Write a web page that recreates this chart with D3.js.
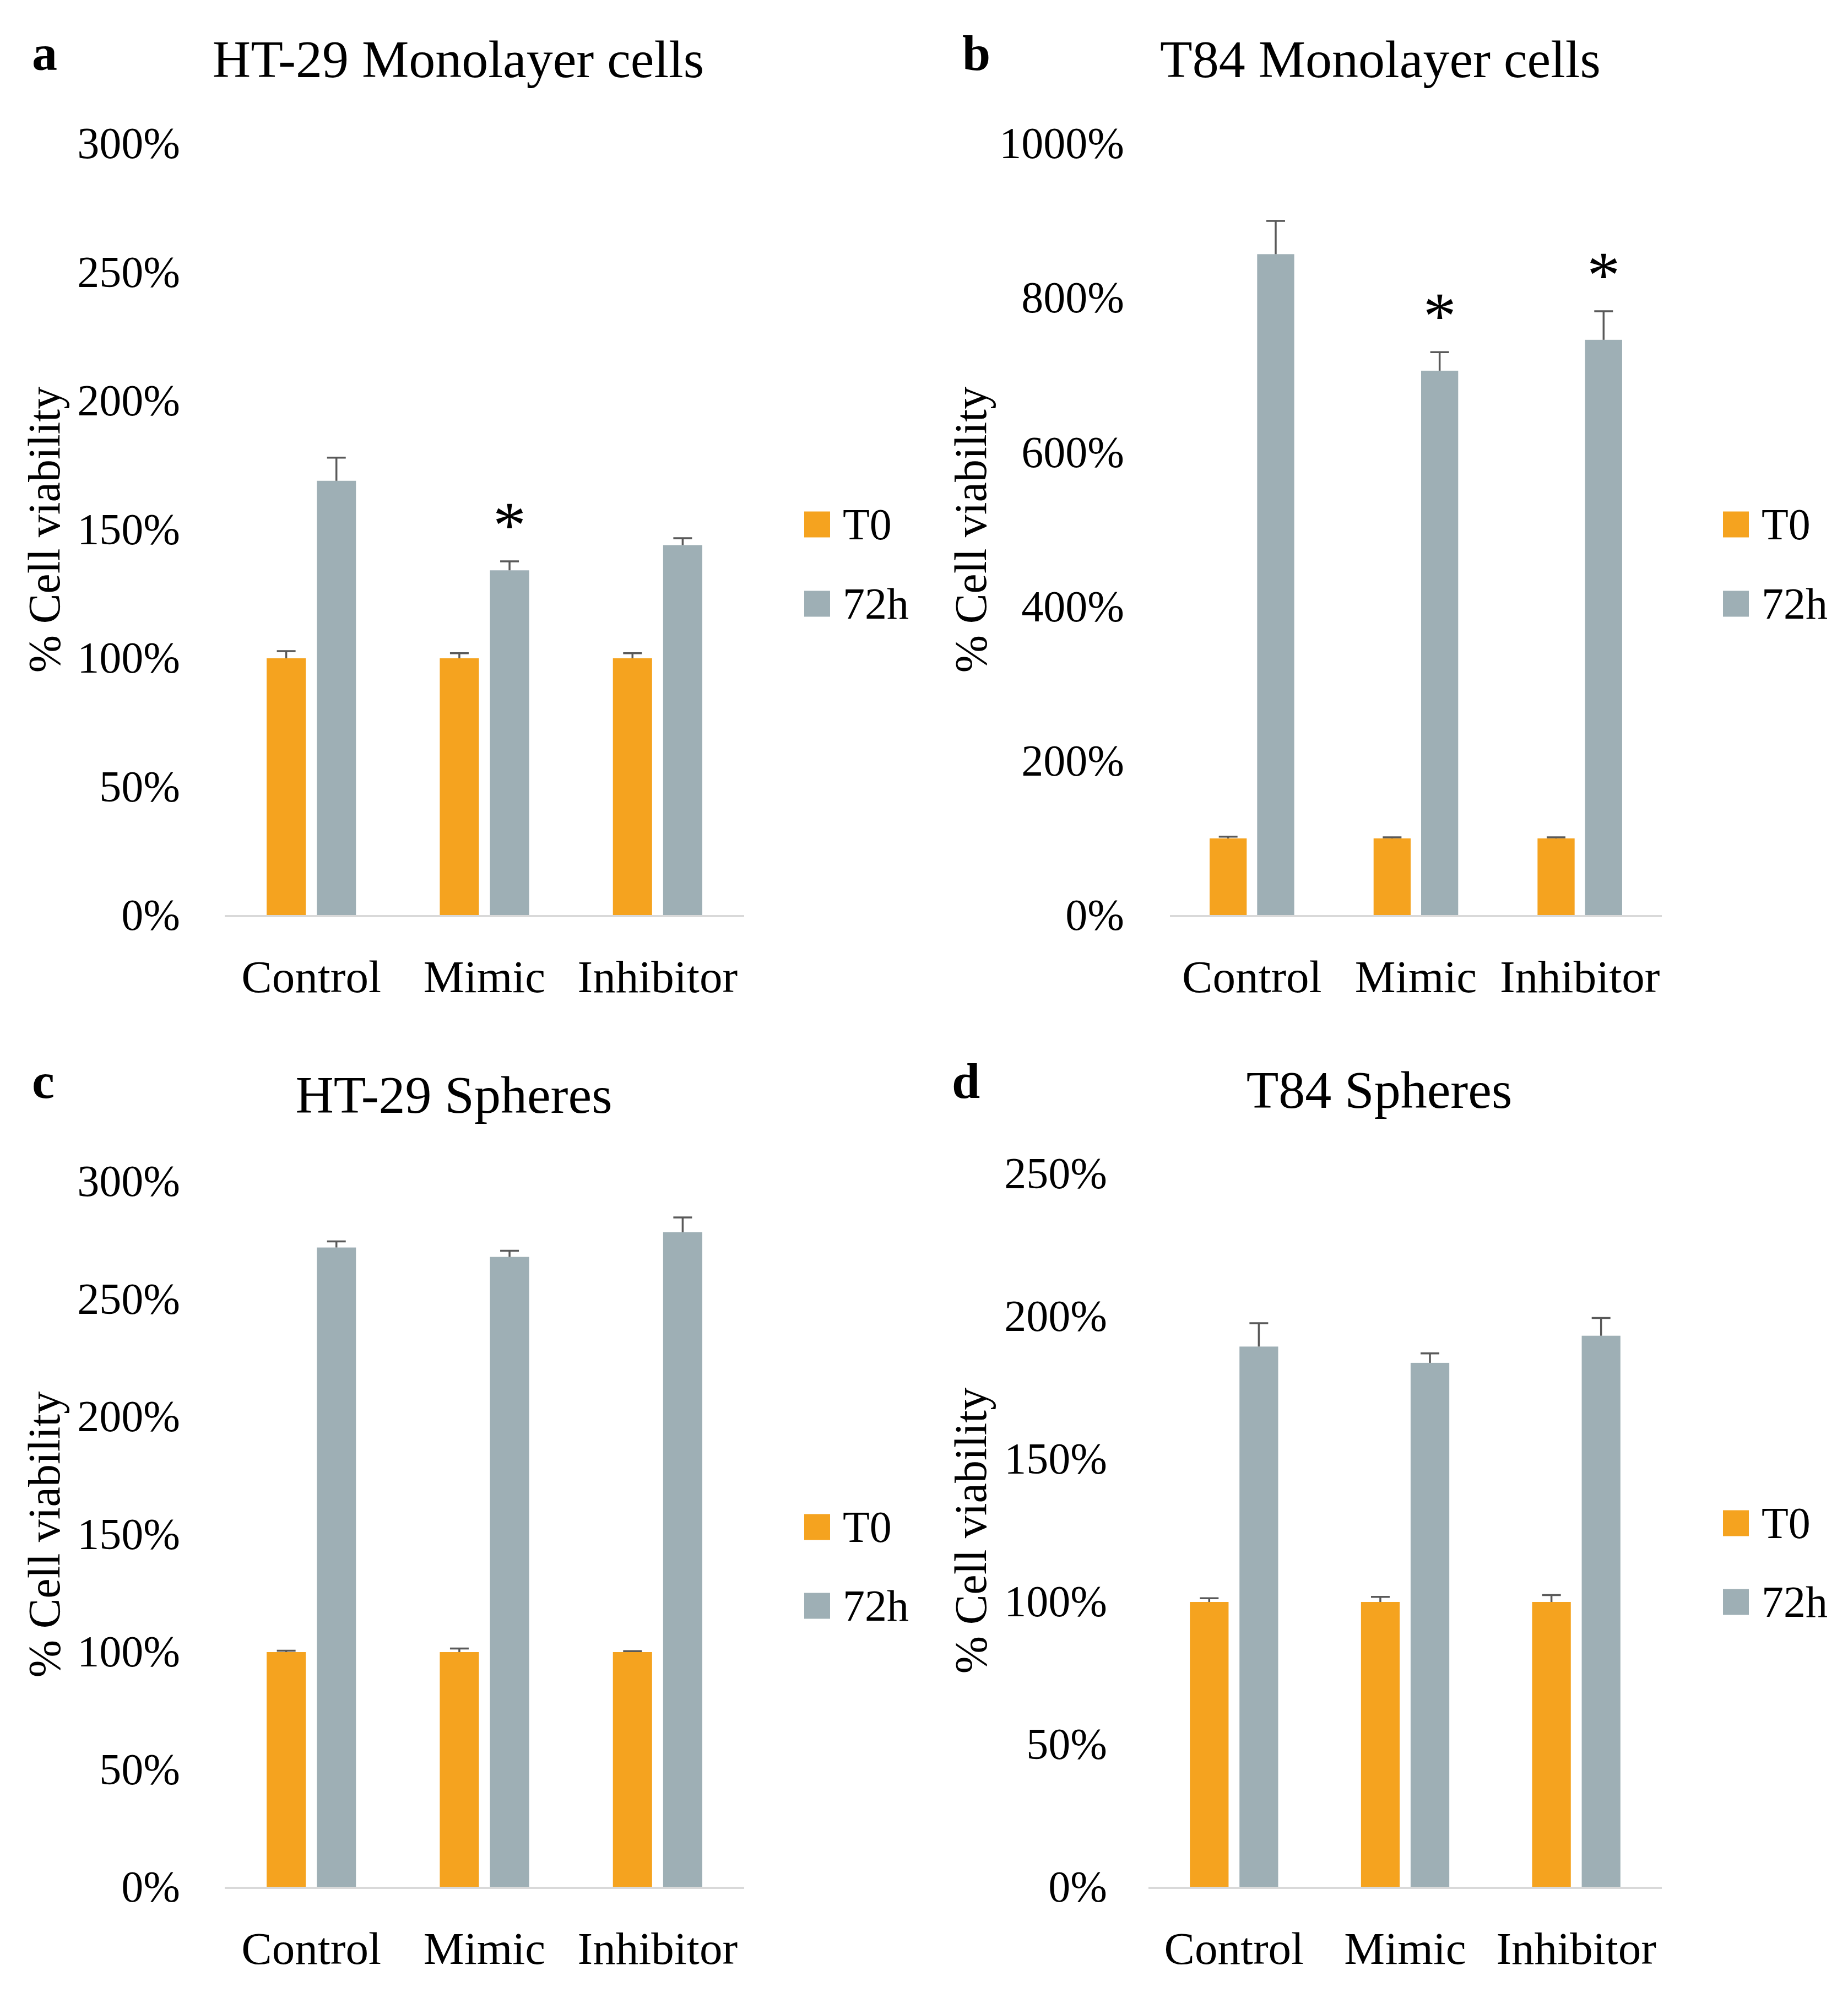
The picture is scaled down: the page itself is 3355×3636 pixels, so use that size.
<!DOCTYPE html>
<html>
<head>
<meta charset="utf-8">
<script src="https://cdn.jsdelivr.net/npm/d3@7"></script>
<style>
  body { margin: 0; background: #fff; }
  text { font-family: "Liberation Serif", "DejaVu Serif", serif; fill: #000; }
</style>
</head>
<body>
<div id="chart"></div>
<script>
// categories and series
var categories = ["Control", "Mimic", "Inhibitor"];
var seriesNames = ["T0", "72h"];
var seriesColors = ["#F5A31F", "#9EAFB5"];

// a - HT-29 monolayer
var htMonoT0 = [100, 100, 100],        htMonoT0Err = [2.8, 2.0, 2.0];
var htMono72 = [169, 134.2, 144],      htMono72Err = [9.0, 3.5, 2.7];
var htMonoStars = [false, true, false];
// b - T84 monolayer
var t84MonoT0 = [100, 100, 100],       t84MonoT0Err = [2.3, 1.4, 1.4];
var t84Mono72 = [857, 706, 746],       t84Mono72Err = [43, 24, 37];
var t84MonoStars = [false, true, true];
// c - HT-29 spheres
var htSphT0 = [100, 100, 100],         htSphT0Err = [0.6, 1.5, 0.4];
var htSph72 = [272, 268, 278.5],       htSph72Err = [2.6, 2.6, 6.3];
var htSphStars = [false, false, false];
// d - T84 spheres
var t84SphT0 = [100, 100, 100],        t84SphT0Err = [1.3, 1.8, 2.4];
var t84Sph72 = [189.5, 183.8, 193.3],  t84Sph72Err = [8.2, 3.3, 6.2];
var t84SphStars = [false, false, false];

// y axis ticks
var ticksA = [0, 50, 100, 150, 200, 250, 300];
var ticksB = [0, 200, 400, 600, 800, 1000];
var ticksC = [0, 50, 100, 150, 200, 250, 300];
var ticksD = [0, 50, 100, 150, 200, 250];

var panels = [
  {letter: "a", title: "HT-29 Monolayer cells", t0: htMonoT0, t0Err: htMonoT0Err, h72: htMono72, h72Err: htMono72Err, stars: htMonoStars, ticks: ticksA,
   letterPos: [58, 127], titlePos: [832, 140], xr: [408, 1351], yr: [1662, 261], tickRight: 327, yTitleX: 108, legendX: 1460, legendY: [952, 1096]},
  {letter: "b", title: "T84 Monolayer cells", t0: t84MonoT0, t0Err: t84MonoT0Err, h72: t84Mono72, h72Err: t84Mono72Err, stars: t84MonoStars, ticks: ticksB,
   letterPos: [1747, 127], titlePos: [2506, 140], xr: [2124, 3017], yr: [1662, 261], tickRight: 2041, yTitleX: 1790, legendX: 3128, legendY: [952, 1096]},
  {letter: "c", title: "HT-29 Spheres", t0: htSphT0, t0Err: htSphT0Err, h72: htSph72, h72Err: htSph72Err, stars: htSphStars, ticks: ticksC,
   letterPos: [58, 1993], titlePos: [824, 2020], xr: [408, 1351], yr: [3426, 2145], tickRight: 327, yTitleX: 108, legendX: 1460, legendY: [2772, 2915]},
  {letter: "d", title: "T84 Spheres", t0: t84SphT0, t0Err: t84SphT0Err, h72: t84Sph72, h72Err: t84Sph72Err, stars: t84SphStars, ticks: ticksD,
   letterPos: [1728, 1993], titlePos: [2504, 2011], xr: [2085, 3017], yr: [3426, 2131], tickRight: 2010, yTitleX: 1790, legendX: 3128, legendY: [2765, 2908]}
];

var svg = d3.select("#chart").append("svg")
  .attr("width", 3355)
  .attr("height", 3636)
  .style("background", "#fff");

panels.forEach(function(p) {
  var g = svg.append("g");
  var yMax = p.ticks[p.ticks.length - 1];

  var x0 = d3.scaleBand().domain(categories).range(p.xr).padding(0);
  var bw = x0.bandwidth();
  var x1 = d3.scaleBand().domain(seriesNames)
    .range([bw * 0.242, bw * 0.758]).paddingInner(0.22).paddingOuter(0);
  var y = d3.scaleLinear().domain([0, yMax]).range(p.yr);

  // panel letter and title
  g.append("text").attr("x", p.letterPos[0]).attr("y", p.letterPos[1])
    .attr("font-size", 92).attr("font-weight", "bold").text(p.letter);
  g.append("text").attr("x", p.titlePos[0]).attr("y", p.titlePos[1])
    .attr("text-anchor", "middle").attr("font-size", 96).text(p.title);

  // y axis (labels only)
  var yAxis = g.append("g")
    .attr("transform", "translate(" + p.tickRight + ",0)")
    .call(d3.axisLeft(y).tickValues(p.ticks).tickSize(0).tickPadding(0)
      .tickFormat(function(d) { return d + "%"; }));
  yAxis.select(".domain").remove();
  yAxis.selectAll("text").attr("font-size", 80).attr("font-family", "Liberation Serif").attr("fill", "#000");

  g.append("text")
    .attr("transform", "translate(" + p.yTitleX + "," + ((p.yr[0] + p.yr[1]) / 2) + ") rotate(-90)")
    .attr("text-anchor", "middle").attr("font-size", 82).text("% Cell viability");

  // bars
  var rows = categories.map(function(c, i) {
    return [
      {cat: c, s: "T0", v: p.t0[i], e: p.t0Err[i], star: false, color: seriesColors[0]},
      {cat: c, s: "72h", v: p.h72[i], e: p.h72Err[i], star: p.stars[i], color: seriesColors[1]}
    ];
  });
  var flat = [].concat.apply([], rows);

  g.selectAll("rect.bar").data(flat).enter().append("rect")
    .attr("class", "bar")
    .attr("x", function(d) { return x0(d.cat) + x1(d.s); })
    .attr("width", x1.bandwidth())
    .attr("y", function(d) { return y(d.v); })
    .attr("height", function(d) { return y(0) - y(d.v); })
    .attr("fill", function(d) { return d.color; });

  // x baseline
  g.append("line")
    .attr("x1", p.xr[0]).attr("x2", p.xr[1])
    .attr("y1", y(0) + 1).attr("y2", y(0) + 1)
    .attr("stroke", "#D9D9D9").attr("stroke-width", 4);

  // error bars (upper only)
  var capW = 34;
  var eb = g.selectAll("g.err").data(flat).enter().append("g").attr("class", "err")
    .attr("stroke", "#595959").attr("stroke-width", 3.5);
  eb.append("line")
    .attr("x1", function(d) { return x0(d.cat) + x1(d.s) + x1.bandwidth() / 2; })
    .attr("x2", function(d) { return x0(d.cat) + x1(d.s) + x1.bandwidth() / 2; })
    .attr("y1", function(d) { return y(d.v); })
    .attr("y2", function(d) { return y(d.v + d.e); });
  eb.append("line")
    .attr("x1", function(d) { return x0(d.cat) + x1(d.s) + x1.bandwidth() / 2 - capW / 2; })
    .attr("x2", function(d) { return x0(d.cat) + x1(d.s) + x1.bandwidth() / 2 + capW / 2; })
    .attr("y1", function(d) { return y(d.v + d.e); })
    .attr("y2", function(d) { return y(d.v + d.e); });

  // significance stars
  g.selectAll("text.star").data(flat.filter(function(d) { return d.star; })).enter().append("text")
    .attr("class", "star")
    .attr("x", function(d) { return x0(d.cat) + x1(d.s) + x1.bandwidth() / 2; })
    .attr("y", function(d) { return y(d.v + d.e) - 80 + 55; })
    .attr("text-anchor", "middle").attr("font-size", 120).text("*");

  // category labels
  var xAxis = g.append("g")
    .attr("transform", "translate(0," + y(0) + ")")
    .call(d3.axisBottom(x0).tickSize(0));
  xAxis.select(".domain").remove();
  xAxis.selectAll("text").attr("y", 139).attr("dy", 0)
    .attr("font-size", 83).attr("font-family", "Liberation Serif").attr("fill", "#000");

  // legend
  seriesNames.forEach(function(s, i) {
    g.append("rect").attr("x", p.legendX).attr("y", p.legendY[i] - 23.5)
      .attr("width", 47).attr("height", 47).attr("fill", seriesColors[i]);
    g.append("text").attr("x", p.legendX + 70).attr("y", p.legendY[i] + 27)
      .attr("font-size", 80).text(s);
  });
});
</script>
</body>
</html>
